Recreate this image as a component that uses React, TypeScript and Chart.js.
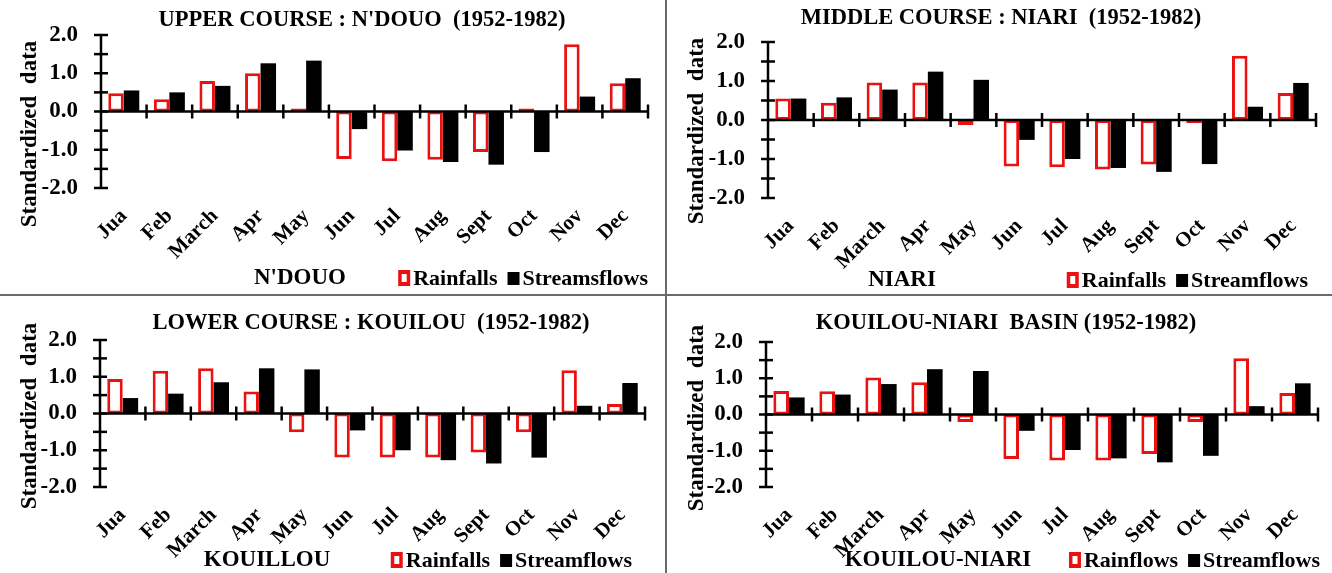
import React, { useEffect, useRef } from "react";
import { Chart, registerables } from "chart.js";

Chart.register(...registerables);

// ---------- data ----------
const MONTHS = ["Jua", "Feb", "March", "Apr", "May", "Jun", "Jul", "Aug", "Sept", "Oct", "Nov", "Dec"];
const Y_MIN = -2;
const Y_MAX = 2;
const Y_STEP = 0.5;

const NDOUO_RAIN = [0.48, 0.32, 0.8, 1.0, 0.08, -1.24, -1.3, -1.26, -1.06, 0.08, 1.76, 0.74];
const NDOUO_FLOW = [0.55, 0.5, 0.67, 1.26, 1.33, -0.46, -1.02, -1.32, -1.39, -1.06, 0.39, 0.87];

const NIARI_RAIN = [0.55, 0.44, 0.96, 0.96, -0.13, -1.19, -1.21, -1.27, -1.14, -0.08, 1.65, 0.69];
const NIARI_FLOW = [0.55, 0.58, 0.78, 1.24, 1.03, -0.51, -1.0, -1.23, -1.33, -1.13, 0.34, 0.95];

const KOUILOU_RAIN = [0.94, 1.16, 1.23, 0.6, -0.51, -1.2, -1.2, -1.2, -1.06, -0.51, 1.18, 0.26];
const KOUILOU_FLOW = [0.42, 0.54, 0.85, 1.23, 1.2, -0.46, -1.0, -1.27, -1.36, -1.2, 0.21, 0.83];

const BASIN_RAIN = [0.65, 0.64, 1.02, 0.89, -0.21, -1.23, -1.27, -1.27, -1.09, -0.21, 1.55, 0.59];
const BASIN_FLOW = [0.47, 0.55, 0.84, 1.25, 1.2, -0.45, -0.98, -1.21, -1.32, -1.14, 0.23, 0.86];

// ---------- layout / style ----------
const FONT_FAMILY = "'Liberation Serif', 'Times New Roman', serif";
const RED = "#ec1111";

type Panel = {
  title: string;
  site: string;
  rainLabel: string;
  flowLabel: string;
  rain: number[];
  flow: number[];
  left: number;
  top: number;
  width: number;
  height: number;
  area: { l: number; r: number; t: number; b: number };
  titleX: number;
  titleY: number;
  yTitleY: number;
  legendY: number;
  siteX: number;
  legendRight: number;
};

const PANELS: Panel[] = [
  {
    title: "UPPER COURSE : N'DOUO  (1952-1982)",
    site: "N'DOUO",
    rainLabel: "Rainfalls",
    flowLabel: "Streamsflows",
    rain: NDOUO_RAIN,
    flow: NDOUO_FLOW,
    left: 0, top: 0, width: 665, height: 294,
    area: { l: 101, r: 648, t: 35, b: 188 },
    titleX: 362, titleY: 20, yTitleY: 134, legendY: 278, siteX: 300, legendRight: 648,
  },
  {
    title: "MIDDLE COURSE : NIARI  (1952-1982)",
    site: "NIARI",
    rainLabel: "Rainfalls",
    flowLabel: "Streamflows",
    rain: NIARI_RAIN,
    flow: NIARI_FLOW,
    left: 667, top: 0, width: 665, height: 294,
    area: { l: 101, r: 649, t: 42, b: 198 },
    titleX: 334, titleY: 18, yTitleY: 131, legendY: 280, siteX: 235, legendRight: 641,
  },
  {
    title: "LOWER COURSE : KOUILOU  (1952-1982)",
    site: "KOUILLOU",
    rainLabel: "Rainfalls",
    flowLabel: "Streamflows",
    rain: KOUILOU_RAIN,
    flow: KOUILOU_FLOW,
    left: 0, top: 296, width: 665, height: 277,
    area: { l: 100, r: 645, t: 44, b: 191 },
    titleX: 371, titleY: 27, yTitleY: 120, legendY: 264, siteX: 267, legendRight: 632,
  },
  {
    title: "KOUILOU-NIARI  BASIN (1952-1982)",
    site: "KOUILOU-NIARI",
    rainLabel: "Rainflows",
    flowLabel: "Streamflows",
    rain: BASIN_RAIN,
    flow: BASIN_FLOW,
    left: 667, top: 296, width: 665, height: 277,
    area: { l: 99, r: 651, t: 46, b: 191 },
    titleX: 339, titleY: 27, yTitleY: 122, legendY: 264, siteX: 271, legendRight: 653,
  },
];

function font(size: number) {
  return `bold ${size}px ${FONT_FAMILY}`;
}

function makeDecorPlugin(p: Panel) {
  return {
    id: "decor",
    afterDatasetsDraw(chart: any) {
      const ctx: CanvasRenderingContext2D = chart.ctx;
      const { left, right, top, bottom } = chart.chartArea;
      const xs = chart.scales.x;
      const ys = chart.scales.y;
      ctx.save();
      ctx.strokeStyle = "#000";
      ctx.lineWidth = 2.5;
      // y axis line
      ctx.beginPath();
      ctx.moveTo(left, top);
      ctx.lineTo(left, bottom);
      ctx.stroke();
      // y crossing ticks
      for (let v = Y_MIN; v <= Y_MAX + 1e-9; v += Y_STEP) {
        const y = ys.getPixelForValue(v);
        ctx.beginPath();
        ctx.moveTo(left - 7, y);
        ctx.lineTo(left + 7, y);
        ctx.stroke();
      }
      // zero line
      const y0 = ys.getPixelForValue(0);
      ctx.beginPath();
      ctx.moveTo(left, y0);
      ctx.lineTo(right, y0);
      ctx.stroke();
      // category boundary ticks
      for (let i = 1; i <= MONTHS.length; i++) {
        const x = xs.getPixelForValue(i - 0.5);
        ctx.beginPath();
        ctx.moveTo(x, y0 - 7);
        ctx.lineTo(x, y0 + 7);
        ctx.stroke();
      }
      ctx.restore();
    },
    afterDraw(chart: any) {
      const ctx: CanvasRenderingContext2D = chart.ctx;
      ctx.save();
      ctx.fillStyle = "#000";
      ctx.textBaseline = "middle";
      // title
      ctx.font = font(22.5);
      ctx.textAlign = "center";
      ctx.fillText(p.title, p.titleX, p.titleY);
      // y title
      ctx.save();
      ctx.translate(30, p.yTitleY);
      ctx.rotate(-Math.PI / 2);
      ctx.font = font(23);
      ctx.textAlign = "center";
      ctx.fillText("Standardized  data", 0, 0);
      ctx.restore();
      // site name
      ctx.font = font(23);
      ctx.textAlign = "center";
      ctx.fillText(p.site, p.siteX, p.legendY);
      // legend
      ctx.font = font(22);
      ctx.textAlign = "left";
      const ds = chart.data.datasets;
      const box = 12;
      const gapText = 3;
      const gapItem = 10;
      const w0 = ctx.measureText(ds[0].label).width;
      const w1 = ctx.measureText(ds[1].label).width;
      const total = box + gapText + w0 + gapItem + box + gapText + w1;
      let x = p.legendRight - total;
      const by = p.legendY - 8;
      // rainfall box
      ctx.fillStyle = RED;
      ctx.fillRect(x, by, box, 16);
      ctx.fillStyle = "#fff";
      ctx.fillRect(x + 3.5, by + 4, box - 7, 8);
      ctx.fillStyle = "#000";
      x += box + gapText;
      ctx.fillText(ds[0].label, x, p.legendY + 1);
      x += w0 + gapItem;
      ctx.fillRect(x, by + 2, box, 13);
      x += box + gapText;
      ctx.fillText(ds[1].label, x, p.legendY + 1);
      ctx.restore();
    },
  };
}

function PanelChart({ p }: { p: Panel }) {
  const ref = useRef<HTMLCanvasElement | null>(null);
  useEffect(() => {
    if (!ref.current) return;
    const chart = new Chart(ref.current, {
      type: "bar",
      data: {
        labels: MONTHS,
        datasets: [
          {
            label: p.rainLabel,
            data: p.rain,
            backgroundColor: "#ffffff",
            borderColor: RED,
            borderWidth: 3,
            borderSkipped: false,
            categoryPercentage: 0.68,
            barPercentage: 1.0,
          },
          {
            label: p.flowLabel,
            data: p.flow,
            backgroundColor: "#000000",
            borderWidth: 0,
            categoryPercentage: 0.68,
            barPercentage: 1.0,
          },
        ],
      },
      options: {
        animation: false,
        responsive: false,
        maintainAspectRatio: false,
        devicePixelRatio: 1,
        layout: {
          padding: { top: p.area.t, left: 0, right: p.width - p.area.r, bottom: 0 },
        },
        plugins: {
          legend: { display: false },
          title: { display: false },
          tooltip: { enabled: false },
        },
        scales: {
          x: {
            grid: { display: false },
            border: { display: false },
            ticks: {
              autoSkip: false,
              maxRotation: 45,
              minRotation: 45,
              color: "#000",
              font: { family: FONT_FAMILY, weight: "bold", size: 21 },
              padding: 8,
            },
            afterFit: (s: any) => {
              s.height = p.height - p.area.b;
            },
          },
          y: {
            min: Y_MIN,
            max: Y_MAX,
            grid: { display: false },
            border: { display: false },
            ticks: {
              stepSize: Y_STEP,
              color: "#000",
              font: { family: FONT_FAMILY, weight: "bold", size: 23 },
              padding: 15,
              callback: (v: any) => (Math.abs(v - Math.round(v)) < 1e-9 ? Number(v).toFixed(1) : ""),
            },
            afterFit: (s: any) => {
              s.width = p.area.l;
            },
          },
        },
      },
      plugins: [makeDecorPlugin(p)],
    } as any);
    return () => chart.destroy();
  }, [p]);
  return (
    <canvas
      ref={ref}
      width={p.width}
      height={p.height}
      style={{ position: "absolute", left: p.left, top: p.top, width: p.width, height: p.height }}
    />
  );
}

export default function App() {
  return (
    <div
      style={{
        position: "absolute",
        left: 0,
        top: 0,
        width: 1332,
        height: 573,
        background: "#fff",
        overflow: "hidden",
      }}
    >
      {PANELS.map((p, i) => (
        <PanelChart key={i} p={p} />
      ))}
      <div style={{ position: "absolute", left: 665, top: 0, width: 2, height: 573, background: "#6a6a6a" }} />
      <div style={{ position: "absolute", left: 0, top: 294, width: 1332, height: 2, background: "#6a6a6a" }} />
    </div>
  );
}
